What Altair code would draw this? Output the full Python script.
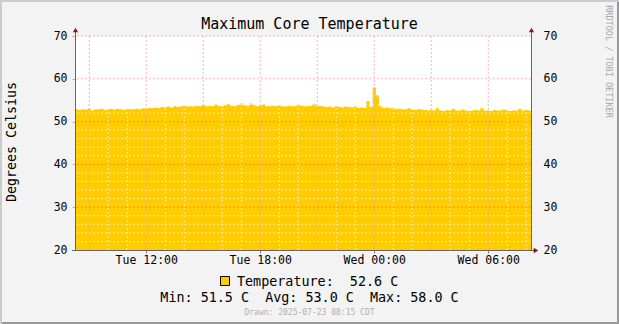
import altair as alt
import pandas as pd

# ---------------- data ----------------
start_time = "2025-07-22T08:15:00Z"
end_time = "2025-07-23T08:15:00Z"
step_minutes = 10

temperature = [
    # Tue 08:15 - 11:35
    52.9, 52.7, 52.9, 52.8, 53.0, 52.6, 52.8, 52.9, 53.0, 52.7, 52.9, 53.0, 52.8, 53.0, 52.9, 52.7, 53.0, 52.9, 52.8, 53.0, 52.9,
    # 11:45 - 14:05
    53.1, 53.0, 53.2, 53.1, 53.3, 53.2, 53.4, 53.3, 53.5, 53.3, 53.6, 53.4, 53.5, 53.7, 53.5,
    # 14:15 - 18:15
    53.6, 53.5, 53.7, 53.6, 53.9, 53.6, 53.7, 53.6, 54.0, 53.7, 53.6, 53.8, 54.1, 53.7, 53.6, 53.9, 54.2, 53.8, 53.7, 54.2, 53.9, 53.6, 53.7, 54.0, 53.6,
    # 18:25 - 21:15
    53.6, 53.7, 53.6, 53.8, 53.6, 53.5, 53.7, 53.6, 53.6, 54.0, 53.7, 53.6, 53.6, 53.7, 54.1, 53.6, 53.7, 53.5,
    # 21:25 - 23:15
    53.4, 53.5, 53.3, 53.6, 53.4, 53.3, 53.5, 53.4, 53.3, 53.5, 53.2, 53.3,
    # 23:25 - 00:15
    53.2, 54.8, 53.4, 58.0, 56.2, 53.6,
    # 00:25 - 02:35
    53.2, 53.3, 53.1, 53.2, 52.9, 53.0, 52.8, 52.9, 53.1, 52.8, 52.7, 52.9, 52.8, 52.7,
    # 02:45 - 08:15
    52.6, 52.7, 52.6, 53.1, 52.6, 52.5, 52.7, 52.6, 53.0, 52.6, 52.6, 52.8, 52.6, 52.5, 52.6, 52.7, 52.6, 53.1, 52.6, 52.6,
    52.5, 52.7, 52.6, 52.6, 52.8, 52.6, 52.5, 52.6, 52.6, 53.0, 52.6, 52.7, 52.6, 52.6,
]

# (year, month, day, hour) of labelled x ticks
x_label_times = [(2025, 7, 22, 12), (2025, 7, 22, 18), (2025, 7, 23, 0), (2025, 7, 23, 6)]
major_x_grid = ["2025-07-22T09:00:00Z", "2025-07-22T12:00:00Z", "2025-07-22T15:00:00Z", "2025-07-22T18:00:00Z",
                "2025-07-22T21:00:00Z", "2025-07-23T00:00:00Z", "2025-07-23T03:00:00Z", "2025-07-23T06:00:00Z"]
minor_x_grid = [f"2025-07-22T{h:02d}:00:00Z" for h in range(9, 24)] + [f"2025-07-23T{h:02d}:00:00Z" for h in range(0, 9)]
y_ticks = [20, 30, 40, 50, 60, 70]
major_y_grid = [30, 40, 50, 60, 70]
minor_y_grid = [v for v in range(22, 70, 2) if v % 10 != 0]

title_text = "Maximum Core Temperature"
y_title = "Degrees Celsius"
legend_line1 = "Temperature:\u00a0\u00a052.6 C"
legend_line2 = "Min: 51.5 C\u00a0\u00a0Avg: 53.0 C\u00a0\u00a0Max: 58.0 C"
drawn_text = "Drawn: 2025-07-23 08:15 CDT"
watermark = "RRDTOOL / TOBI OETIKER"

# ---------------- build ----------------
times = pd.date_range(start=pd.Timestamp(start_time), periods=len(temperature), freq=f"{step_minutes}min")
df = pd.DataFrame({"time": times.strftime("%Y-%m-%dT%H:%M:%SZ"), "temp": temperature})

FONT = "DejaVu Sans Mono"
W, H = 456, 214
one = pd.DataFrame({"a": [0]})

x_values = [alt.DateTime(year=y, month=m, date=d, hours=h, utc=True) for (y, m, d, h) in x_label_times]
xscale = alt.Scale(type="utc", domain=[alt.DateTime(year=2025, month=7, date=22, hours=8, minutes=15, utc=True),
                                       alt.DateTime(year=2025, month=7, date=23, hours=8, minutes=15, utc=True)])
yscale = alt.Scale(domain=[20, 70], nice=False, zero=False)

area = alt.Chart(df).mark_area(color="#FFCC00", interpolate="step-after").encode(
    x=alt.X("time:T", scale=xscale, title=None,
            axis=alt.Axis(values=x_values, format="%a %H:%M", labelFont=FONT, labelFontSize=11.5,
                          labelColor="#000000", domain=False, grid=False, ticks=True, tickSize=3,
                          tickColor="#D06060", labelPadding=1.5, labelFlush=False, labelOverlap=False)),
    y=alt.Y("temp:Q", scale=yscale, title=None,
            axis=alt.Axis(orient="left", values=y_ticks, labelFont=FONT, labelFontSize=11.5, labelColor="#000000",
                          domain=False, grid=False, ticks=True, tickSize=3, tickColor="#E0A0A0", labelPadding=5)),
    y2=alt.datum(20),
)

minor_v = alt.Chart(pd.DataFrame({"t": minor_x_grid})).mark_rule(
    color="#FFFFFF", opacity=0.6, strokeDash=[2, 2], strokeWidth=1).encode(
    x=alt.X("t:T", axis=None))
minor_h = alt.Chart(pd.DataFrame({"v": minor_y_grid})).mark_rule(
    color="#FFFFFF", opacity=0.6, strokeDash=[2, 2], strokeWidth=1).encode(
    y=alt.Y("v:Q", axis=None))
major_v = alt.Chart(pd.DataFrame({"t": major_x_grid})).mark_rule(
    color="#E03030", opacity=0.35, strokeDash=[2, 2], strokeWidth=1).encode(
    x=alt.X("t:T", axis=None))
major_h = alt.Chart(pd.DataFrame({"v": major_y_grid})).mark_rule(
    color="#E03030", opacity=0.35, strokeDash=[2, 2], strokeWidth=1).encode(
    y=alt.Y("v:Q", title=None,
            axis=alt.Axis(orient="right", values=y_ticks, labelFont=FONT, labelFontSize=11.5, labelColor="#000000",
                          domain=False, grid=False, ticks=True, tickSize=3, tickColor="#F3F3F3", labelPadding=9)))

AX = "#666666"
ARROW = "#8B1A1A"
left_axis = alt.Chart(one).mark_rule(color=AX, strokeWidth=1).encode(
    x=alt.value(0.5), y=alt.value(-5), y2=alt.value(H))
right_axis = alt.Chart(one).mark_rule(color=AX, strokeWidth=1).encode(
    x=alt.value(W + 0.5), y=alt.value(-5), y2=alt.value(H))
bottom_axis = alt.Chart(one).mark_rule(color=AX, strokeWidth=1).encode(
    x=alt.value(-3), x2=alt.value(W + 4), y=alt.value(H + 0.5))
arrow_l = alt.Chart(one).mark_point(shape="triangle-up", filled=True, color=ARROW, size=28, opacity=1).encode(
    x=alt.value(0.5), y=alt.value(-6))
arrow_r = alt.Chart(one).mark_point(shape="triangle-up", filled=True, color=ARROW, size=28, opacity=1).encode(
    x=alt.value(W + 0.5), y=alt.value(-6))
arrow_b = alt.Chart(one).mark_point(shape="triangle-right", filled=True, color=ARROW, size=28, opacity=1).encode(
    x=alt.value(W + 5), y=alt.value(H + 0.5))

# frame (3D border)
LIGHT, DARK = "#CBCBCB", "#999999"
b_top = alt.Chart(one).mark_rule(color=LIGHT, strokeWidth=2).encode(x=alt.value(-75), x2=alt.value(544), y=alt.value(-35))
b_left = alt.Chart(one).mark_rule(color=LIGHT, strokeWidth=2).encode(x=alt.value(-74), y=alt.value(-36), y2=alt.value(288))
b_bottom = alt.Chart(one).mark_rule(color=DARK, strokeWidth=2).encode(x=alt.value(-73), x2=alt.value(544), y=alt.value(287))
b_right = alt.Chart(one).mark_rule(color=DARK, strokeWidth=2).encode(x=alt.value(543), y=alt.value(-34), y2=alt.value(288))

def txt(text, x, y, size, color="#000000", align="center", angle=0):
    kw = dict(font=FONT, fontSize=size, color=color, align=align, baseline="middle")
    if angle:
        kw["angle"] = angle
    return alt.Chart(one).mark_text(**kw).encode(x=alt.value(x), y=alt.value(y), text=alt.value(text))

t_title = txt(title_text, 234.5, -12, 15)
t_ylab = txt(y_title, -63, 106, 13.3, angle=270)
t_leg1 = txt(legend_line1, 162, 245.7, 13.4, align="left")
t_leg2 = txt(legend_line2, 234.5, 261.5, 13.4)
t_drawn = txt(drawn_text, 234.5, 277, 8, color="#B0B0B0")
t_wm = txt(watermark, 534, 25.5, 8.5, color="#A8A8A8", angle=90)

swatch = alt.Chart(one).mark_rect(fill="#FFCC00", stroke="#000000", strokeWidth=1).encode(
    x=alt.value(145.5), x2=alt.value(154.5), y=alt.value(240.5), y2=alt.value(249.5))

chart = alt.layer(
    area, minor_v, minor_h, major_v, major_h,
    left_axis, right_axis, bottom_axis, arrow_l, arrow_r, arrow_b,
    b_top, b_left, b_bottom, b_right,
    t_title, t_ylab, t_leg1, t_leg2, t_drawn, t_wm, swatch,
).resolve_axis(x="independent", y="independent").properties(
    width=W, height=H,
    padding={"left": 75, "top": 36, "right": 88, "bottom": 74},
    autosize=alt.AutoSizeParams(type="none"),
    background="#F3F3F3",
).configure_view(fill="white", strokeWidth=0)

chart.save("out.html", embed_options={"renderer": "svg", "actions": False})
